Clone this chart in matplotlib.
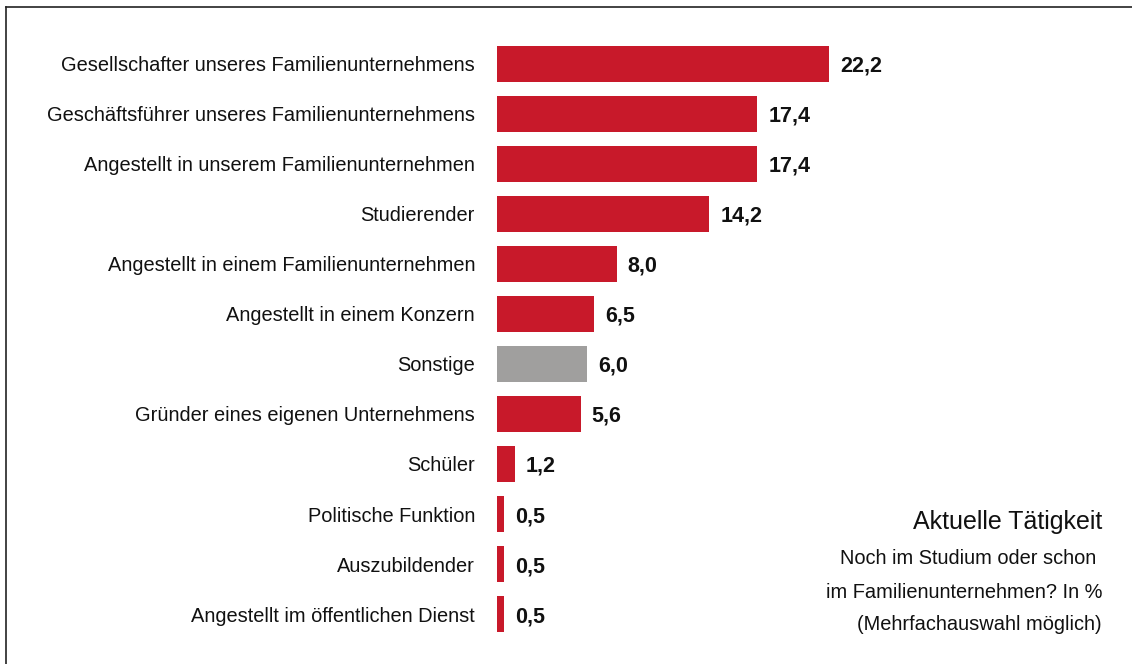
import matplotlib
matplotlib.use('Agg')
import matplotlib.pyplot as plt
from matplotlib.font_manager import fontManager

# Daten
kategorien = [
    'Gesellschafter unseres Familienunternehmens',
    'Geschäftsführer unseres Familienunternehmens',
    'Angestellt in unserem Familienunternehmen',
    'Studierender',
    'Angestellt in einem Familienunternehmen',
    'Angestellt in einem Konzern',
    'Sonstige',
    'Gründer eines eigenen Unternehmens',
    'Schüler',
    'Politische Funktion',
    'Auszubildender',
    'Angestellt im öffentlichen Dienst',
]
werte = [22.2, 17.4, 17.4, 14.2, 8.0, 6.5, 6.0, 5.6, 1.2, 0.5, 0.5, 0.5]
grau = ['Sonstige']

ROT = '#C8192A'
GRAU = '#A09F9E'

installed = {f.name for f in fontManager.ttflist}
fam = ['Liberation Sans Narrow', 'DejaVu Sans'] if 'Liberation Sans Narrow' in installed else ['Liberation Sans', 'DejaVu Sans']
plt.rcParams['font.family'] = fam
zahl_fam = ['Liberation Sans', 'DejaVu Sans']

W, H = 1132, 664
fig = plt.figure(figsize=(W / 100, H / 100), dpi=100)
x0 = 497
ax = fig.add_axes([x0 / W, 0, 1 - x0 / W, 1])
px_per_unit = 14.96
ax.set_xlim(0, (W - x0) / px_per_unit)
ax.set_ylim((H - 64) / 50, -64 / 50)
ax.axis('off')

farben = [GRAU if k in grau else ROT for k in kategorien]
ys = list(range(len(kategorien)))
ax.barh(ys, werte, height=0.72, color=farben)

for y, k, v in zip(ys, kategorien, werte):
    ax.annotate(k, (0, y), xytext=(-22, 0), textcoords='offset pixels',
                ha='right', va='center_baseline', fontsize=14.4, color='#111111')
    ax.annotate(f'{v:.1f}'.replace('.', ','), (v, y), xytext=(11, 0),
                textcoords='offset pixels', ha='left', va='center_baseline',
                fontsize=15.5, fontweight='bold', color='#111111', family=zahl_fam)

# Rahmen links und oben
fig.add_artist(plt.Line2D([6 / W, 6 / W], [0, 1 - 7 / H], color='#222222', lw=1.2))
fig.add_artist(plt.Line2D([6 / W, 1], [1 - 7 / H, 1 - 7 / H], color='#222222', lw=1.2))

# Beschriftung unten rechts
xr = 1102 / W
fig.text(xr, 1 - 522 / H, 'Aktuelle Tätigkeit', ha='right', va='center', fontsize=18, color='#111111')
fig.text(xr, 1 - 558 / H, 'Noch im Studium oder schon ', ha='right', va='center', fontsize=14.4, color='#111111')
fig.text(xr, 1 - 592 / H, 'im Familienunternehmen? In %', ha='right', va='center', fontsize=14.4, color='#111111')
fig.text(xr, 1 - 625 / H, '(Mehrfachauswahl möglich)', ha='right', va='center', fontsize=14.4, color='#111111')

plt.savefig('out.png', dpi=100)
plt.close()
